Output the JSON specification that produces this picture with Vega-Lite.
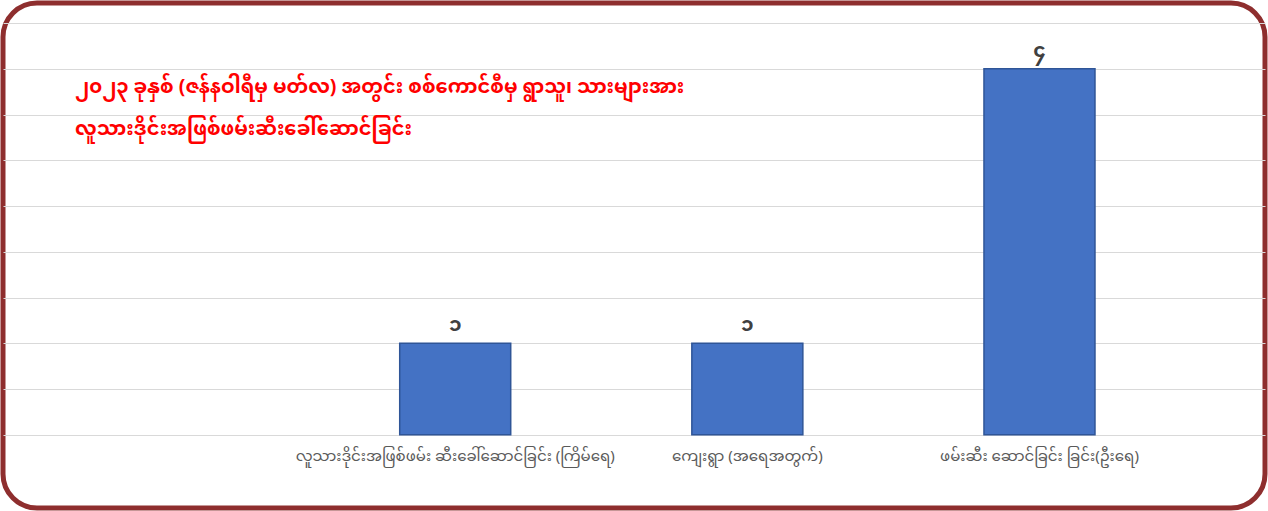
{
  "$schema": "https://vega.github.io/schema/vega-lite/v6.json",
  "width": 1268,
  "height": 511,
  "autosize": {"type": "fit", "contains": "padding"},
  "padding": 3,
  "background": "white",
  "config": {
    "view": {"stroke": "#8E2E2E", "strokeWidth": 5, "cornerRadius": 34},
    "font": "Noto Sans Myanmar, Padauk, Myanmar Text, sans-serif"
  },
  "title": {
    "text": ["၂၀၂၃ ခုနှစ် (ဇန်နဝါရီမှ မတ်လ) အတွင်း စစ်ကောင်စီမှ ရွာသူ၊ သားများအား", "လူသားဒိုင်းအဖြစ်ဖမ်းဆီးခေါ်ဆောင်ခြင်း"],
    "anchor": "start",
    "frame": "group",
    "orient": "top",
    "offset": 0,
    "dx": 72,
    "dy": 136,
    "color": "#FF0000",
    "fontSize": 19.5,
    "fontWeight": "bold",
    "lineHeight": 42,
    "font": "Noto Sans Myanmar, Padauk, Myanmar Text, sans-serif"
  },
  "data": {
    "values": [
      {"category": "လူသားဒိုင်းအဖြစ်ဖမ်း ဆီးခေါ်ဆောင်ခြင်း (ကြိမ်ရေ)", "value": 1, "label": "၁"},
      {"category": "ကျေးရွာ (အရေအတွက်)", "value": 1, "label": "၁"},
      {"category": "ဖမ်းဆီး ဆောင်ခြင်း ခြင်း(ဦးရေ)", "value": 4, "label": "၄"}
    ]
  },
  "encoding": {
    "x": {
      "field": "category",
      "type": "nominal",
      "sort": null,
      "title": null,
      "scale": {"paddingInner": 0.62, "paddingOuter": 0.97, "align": 0.7},
      "axis": {
        "labelAngle": 0,
        "labelLimit": 400,
        "labelFontSize": 15,
        "labelColor": "#595959",
        "ticks": false,
        "domain": false,
        "grid": false,
        "offset": -62
      }
    },
    "y": {
      "field": "value",
      "type": "quantitative",
      "title": null,
      "scale": {"domain": [-0.8, 4.72], "nice": false, "zero": false},
      "axis": {
        "values": [0, 0.5, 1, 1.5, 2, 2.5, 3, 3.5, 4, 4.5],
        "labels": false,
        "ticks": false,
        "domain": false,
        "grid": true,
        "gridColor": "#D9D9D9",
        "gridWidth": 1
      }
    }
  },
  "layer": [
    {"mark": {"type": "bar", "color": "#4472C4", "stroke": "#2F5597", "strokeWidth": 1.5}},
    {
      "mark": {"type": "text", "baseline": "bottom", "dy": -8, "fontSize": 20, "fontWeight": "bold", "color": "#404040"},
      "encoding": {"text": {"field": "label"}}
    }
  ]
}
